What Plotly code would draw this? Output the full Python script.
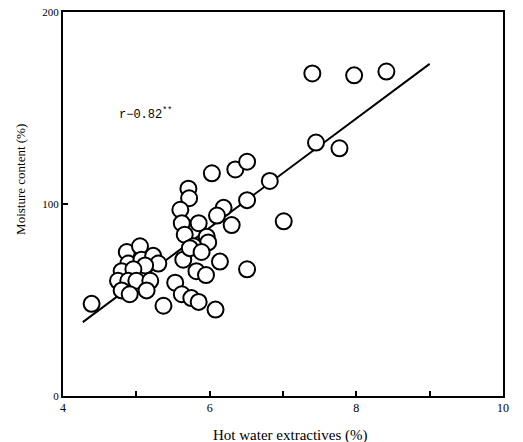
import plotly.graph_objects as go

# Data
x_vals = [4.39, 4.87, 5.05, 4.89, 5.07, 5.23, 5.30, 5.12, 4.80, 4.96, 4.75, 4.89, 5.00, 5.19,
          4.80, 4.91, 5.14, 5.37, 5.53, 5.62, 5.75, 5.85, 6.08,
          6.03, 6.35, 6.51, 5.71, 5.72, 5.60, 5.62, 5.85, 5.66, 6.19, 6.10, 6.30, 6.51, 6.82,
          5.96, 5.98, 5.78, 5.64, 5.73, 5.89, 6.14, 5.82, 5.95, 6.51, 7.01,
          7.45, 7.77, 7.40, 7.97, 8.41]
y_vals = [48, 75, 78, 69, 71, 73, 69, 68, 65, 66, 60, 60, 60, 60,
          55, 53, 55, 47, 59, 53, 51, 49, 45,
          116, 118, 122, 108, 103, 97, 90, 90, 84, 98, 94, 89, 102, 112,
          83, 80, 78, 71, 77, 75, 70, 65, 63, 66, 91,
          132, 129, 168, 167, 169]

fit_x = [4.27, 9.0]
fit_y = [38.5, 173]

x_ticks = [4, 5, 6, 7, 8, 9, 10]
x_ticktext = ["4", "", "6", "", "8", "", "10"]
y_ticks = [0, 100, 200]

x_title = "Hot water extractives (%)"
y_title = "Moisture content (%)"
r_text = "r−0.82<sup>**</sup>"

font_family = "Liberation Serif, Times New Roman, serif"

fig = go.Figure()
fig.add_trace(go.Scatter(x=fit_x, y=fit_y, mode="lines",
                         line=dict(color="black", width=2), showlegend=False))
fig.add_trace(go.Scatter(x=x_vals, y=y_vals, mode="markers",
                         marker=dict(symbol="circle", size=16, color="white",
                                     line=dict(color="black", width=2)),
                         showlegend=False))

fig.add_annotation(x=4.74, y=147, text=r_text, showarrow=False,
                   xanchor="left", yanchor="middle",
                   font=dict(family="Liberation Mono, monospace", size=12, color="black"))

fig.add_annotation(xref="paper", yref="paper", x=0.517, y=-0.102, text=x_title,
                   showarrow=False, xanchor="center", yanchor="middle",
                   font=dict(family=font_family, size=15, color="black"))
fig.add_annotation(xref="paper", yref="paper", x=-0.098, y=0.565, text=y_title,
                   showarrow=False, xanchor="center", yanchor="middle", textangle=-90,
                   font=dict(family=font_family, size=13, color="black"))

fig.update_xaxes(range=[4, 10], tickvals=x_ticks, ticktext=x_ticktext,
                 ticks="inside", ticklen=5, tickwidth=2, tickcolor="black",
                 showline=True, linecolor="black", linewidth=2, mirror=True,
                 showgrid=False, zeroline=False, automargin=False,
                 tickfont=dict(family=font_family, size=12, color="black"))
fig.update_yaxes(range=[0, 200], tickvals=y_ticks,
                 ticks="inside", ticklen=5, tickwidth=2, tickcolor="black",
                 showline=True, linecolor="black", linewidth=2, mirror=True,
                 showgrid=False, zeroline=False, automargin=False,
                 tickfont=dict(family=font_family, size=11, color="black"))

fig.update_layout(width=523, height=442, plot_bgcolor="white", paper_bgcolor="white",
                  margin=dict(l=63, r=20, t=12, b=46))

fig.write_html("out.html")
